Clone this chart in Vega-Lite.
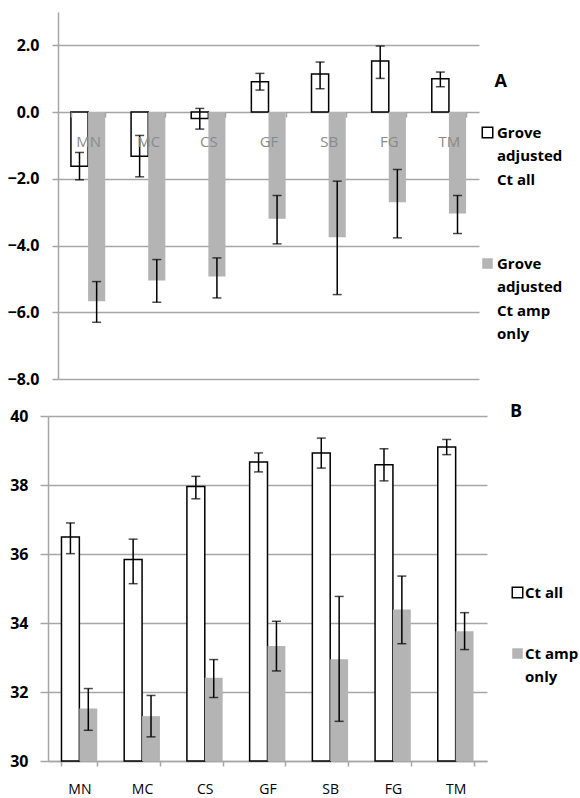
{
  "$schema": "https://vega.github.io/schema/vega-lite/v6.json",
  "background": "white",
  "padding": {"left": 0, "top": 12, "right": 0, "bottom": 0},
  "columns": 1,
  "align": "none",
  "spacing": 16,
  "config": {
    "view": {"stroke": null},
    "font": "Open Sans",
    "axis": {"domainColor": "#a6a6a6", "gridColor": "#a6a6a6", "tickColor": "#a6a6a6", "domainWidth": 1.5, "gridWidth": 1.5, "tickWidth": 1.5, "labelFont": "Open Sans"},
    "style": {"guide-label": {"lineHeight": 23.5}}
  },
  "datasets": {
    "A": [
      {"cat": "MN", "series": "Grove adjusted Ct all", "value": -1.62, "lo": -2.03, "hi": -1.21},
      {"cat": "MN", "series": "Grove adjusted Ct amp only", "value": -5.67, "lo": -6.3, "hi": -5.08},
      {"cat": "MC", "series": "Grove adjusted Ct all", "value": -1.32, "lo": -1.94, "hi": -0.7},
      {"cat": "MC", "series": "Grove adjusted Ct amp only", "value": -5.05, "lo": -5.7, "hi": -4.42},
      {"cat": "CS", "series": "Grove adjusted Ct all", "value": -0.19, "lo": -0.51, "hi": 0.11},
      {"cat": "CS", "series": "Grove adjusted Ct amp only", "value": -4.93, "lo": -5.57, "hi": -4.37},
      {"cat": "GF", "series": "Grove adjusted Ct all", "value": 0.91, "lo": 0.66, "hi": 1.16},
      {"cat": "GF", "series": "Grove adjusted Ct amp only", "value": -3.2, "lo": -3.95, "hi": -2.5},
      {"cat": "SB", "series": "Grove adjusted Ct all", "value": 1.14, "lo": 0.7, "hi": 1.5},
      {"cat": "SB", "series": "Grove adjusted Ct amp only", "value": -3.75, "lo": -5.47, "hi": -2.07},
      {"cat": "FG", "series": "Grove adjusted Ct all", "value": 1.53, "lo": 1.01, "hi": 1.98},
      {"cat": "FG", "series": "Grove adjusted Ct amp only", "value": -2.7, "lo": -3.77, "hi": -1.72},
      {"cat": "TM", "series": "Grove adjusted Ct all", "value": 1.0, "lo": 0.76, "hi": 1.2},
      {"cat": "TM", "series": "Grove adjusted Ct amp only", "value": -3.04, "lo": -3.64, "hi": -2.5}
    ],
    "B": [
      {"cat": "MN", "series": "Ct all", "value": 36.49, "lo": 36.01, "hi": 36.9},
      {"cat": "MN", "series": "Ct amp only", "value": 31.52, "lo": 30.89, "hi": 32.1},
      {"cat": "MC", "series": "Ct all", "value": 35.84, "lo": 35.14, "hi": 36.43},
      {"cat": "MC", "series": "Ct amp only", "value": 31.3, "lo": 30.7, "hi": 31.9},
      {"cat": "CS", "series": "Ct all", "value": 37.96, "lo": 37.6, "hi": 38.25},
      {"cat": "CS", "series": "Ct amp only", "value": 32.41, "lo": 31.84, "hi": 32.94},
      {"cat": "GF", "series": "Ct all", "value": 38.67, "lo": 38.38, "hi": 38.93},
      {"cat": "GF", "series": "Ct amp only", "value": 33.33, "lo": 32.61, "hi": 34.05},
      {"cat": "SB", "series": "Ct all", "value": 38.93, "lo": 38.49, "hi": 39.36},
      {"cat": "SB", "series": "Ct amp only", "value": 32.95, "lo": 31.15, "hi": 34.77},
      {"cat": "FG", "series": "Ct all", "value": 38.59, "lo": 38.12, "hi": 39.05},
      {"cat": "FG", "series": "Ct amp only", "value": 34.39, "lo": 33.4, "hi": 35.36},
      {"cat": "TM", "series": "Ct all", "value": 39.1, "lo": 38.88, "hi": 39.32},
      {"cat": "TM", "series": "Ct amp only", "value": 33.76, "lo": 33.23, "hi": 34.3}
    ]
  },
  "resolve": {
    "scale": {"x": "independent", "y": "independent", "xOffset": "independent", "fill": "independent", "stroke": "independent"},
    "legend": {"fill": "independent", "stroke": "independent"}
  },
  "concat": [
    {
      "width": 431,
      "height": 367,
      "data": {"name": "A"},
      "title": {"text": "A", "anchor": "end", "frame": "group", "offset": 0, "baseline": "alphabetic", "dx": 28, "dy": 93, "fontSize": 18, "fontWeight": "bold", "font": "Open Sans", "color": "black"},
      "encoding": {
        "x": {"field": "cat", "type": "nominal", "sort": null, "title": null,
          "scale": {"range": [10, 431], "paddingInner": 0.43, "paddingOuter": 0.215},
          "axis": {"orient": "bottom", "offset": -267, "domain": false, "grid": false, "tickBand": "extent", "tickSize": 5, "labelPadding": 17, "labelColor": "#8a8a8a", "labelFontSize": 15, "labelAngle": 0, "zindex": 1}},
        "xOffset": {"field": "series", "type": "nominal", "sort": null}
      },
      "layer": [
        {
          "mark": {"type": "bar", "strokeWidth": 1.5},
          "encoding": {
            "y": {"field": "value", "type": "quantitative", "title": null,
              "scale": {"domain": [-8, 3], "nice": false, "zero": false},
              "axis": {"offset": -10, "values": [-8, -6, -4, -2, 0, 2], "format": ".1f", "grid": true, "tickSize": 6, "labelPadding": 13, "labelFontSize": 16, "labelFontWeight": "bold", "labelColor": "black"}},
            "fill": {"field": "series", "type": "nominal", "sort": null, "title": null,
              "scale": {"domain": ["Grove adjusted Ct all", "Grove adjusted Ct amp only"], "range": ["#ffffff", "#b4b4b4"]},
              "legend": {"orient": "none", "legendX": 432, "legendY": 113, "padding": 0, "symbolType": "square", "symbolSize": 110, "symbolStrokeWidth": 1.5, "labelFontSize": 15, "labelFontWeight": "bold", "labelFont": "Open Sans", "labelColor": "black", "labelOffset": 2, "rowPadding": 67, "labelLimit": 300,
                "labelExpr": "datum.label == 'Grove adjusted Ct all' ? ['Grove', 'adjusted', 'Ct all'] : ['Grove', 'adjusted', 'Ct amp', 'only']"}},
            "stroke": {"field": "series", "type": "nominal", "sort": null, "title": null,
              "scale": {"domain": ["Grove adjusted Ct all", "Grove adjusted Ct amp only"], "range": ["#000000", "transparent"]}}
          }
        },
        {
          "mark": {"type": "rule", "color": "black", "strokeWidth": 1.5},
          "encoding": {"y": {"field": "lo", "type": "quantitative", "title": null}, "y2": {"field": "hi"}}
        },
        {
          "mark": {"type": "tick", "color": "black", "size": 9, "thickness": 1.5},
          "encoding": {"y": {"field": "lo", "type": "quantitative", "title": null}}
        },
        {
          "mark": {"type": "tick", "color": "black", "size": 9, "thickness": 1.5},
          "encoding": {"y": {"field": "hi", "type": "quantitative", "title": null}}
        }
      ]
    },
    {
      "width": 439,
      "height": 345,
      "data": {"name": "B"},
      "title": {"text": "B", "anchor": "end", "frame": "group", "offset": 0, "baseline": "alphabetic", "dx": 35, "dy": 27, "fontSize": 18, "fontWeight": "bold", "font": "Open Sans", "color": "black"},
      "encoding": {
        "x": {"field": "cat", "type": "nominal", "sort": null, "title": null,
          "scale": {"paddingInner": 0.43, "paddingOuter": 0.215},
          "axis": {"orient": "bottom", "domain": true, "grid": false, "tickBand": "extent", "tickSize": 5, "labelPadding": 16, "labelColor": "black", "labelFontSize": 14, "labelAngle": 0}},
        "xOffset": {"field": "series", "type": "nominal", "sort": null}
      },
      "layer": [
        {
          "mark": {"type": "bar", "strokeWidth": 1.5},
          "encoding": {
            "y": {"field": "value", "type": "quantitative", "title": null,
              "scale": {"domain": [30, 40], "nice": false, "zero": false},
              "axis": {"values": [30, 32, 34, 36, 38, 40], "format": "d", "grid": true, "tickSize": 8, "labelPadding": 12, "labelFontSize": 16, "labelFontWeight": "bold", "labelColor": "black", "minExtent": 48}},
            "y2": {"datum": 30},
            "fill": {"field": "series", "type": "nominal", "sort": null, "title": null,
              "scale": {"domain": ["Ct all", "Ct amp only"], "range": ["#ffffff", "#b4b4b4"]},
              "legend": {"orient": "none", "legendX": 462, "legendY": 169, "padding": 0, "symbolType": "square", "symbolSize": 110, "symbolStrokeWidth": 1.5, "labelFontSize": 15, "labelFontWeight": "bold", "labelFont": "Open Sans", "labelColor": "black", "labelOffset": 0, "rowPadding": 44, "labelLimit": 300,
                "labelExpr": "datum.label == 'Ct all' ? 'Ct all' : ['Ct amp', 'only']"}},
            "stroke": {"field": "series", "type": "nominal", "sort": null, "title": null,
              "scale": {"domain": ["Ct all", "Ct amp only"], "range": ["#000000", "transparent"]}}
          }
        },
        {
          "mark": {"type": "rule", "color": "black", "strokeWidth": 1.5},
          "encoding": {"y": {"field": "lo", "type": "quantitative", "title": null}, "y2": {"field": "hi"}}
        },
        {
          "mark": {"type": "tick", "color": "black", "size": 9, "thickness": 1.5},
          "encoding": {"y": {"field": "lo", "type": "quantitative", "title": null}}
        },
        {
          "mark": {"type": "tick", "color": "black", "size": 9, "thickness": 1.5},
          "encoding": {"y": {"field": "hi", "type": "quantitative", "title": null}}
        }
      ]
    }
  ]
}
